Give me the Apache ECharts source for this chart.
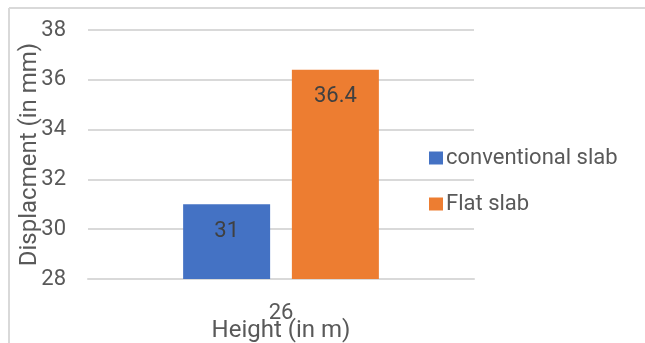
<!DOCTYPE html>
<html>
<head>
<meta charset="utf-8">
<script src="https://cdn.jsdelivr.net/npm/echarts@6/dist/echarts.min.js"></script>
<style>
  html, body { margin: 0; padding: 0; background: #fff; }
  #chart { width: 645px; height: 343px; }
</style>
</head>
<body>
<div id="chart"></div>
<script>
// Displacement of the two slab systems at a building height of 26 m
const categories = ['26'];
const conventionalSlab = [31];
const flatSlab = [36.4];
const yTicks = { min: 28, max: 38, interval: 2 };

const font = 'Roboto, "Open Sans", sans-serif';
const chart = echarts.init(document.getElementById('chart'));

chart.setOption({
  animation: false,
  backgroundColor: '#ffffff',
  textStyle: { fontFamily: font },
  graphic: [
    { type: 'line', shape: { x1: 9, y1: 8, x2: 645, y2: 8 }, style: { stroke: '#d9d9d9', lineWidth: 2 } },
    { type: 'line', shape: { x1: 9, y1: 8, x2: 9, y2: 343 }, style: { stroke: '#d9d9d9', lineWidth: 2 } }
  ],
  grid: { left: 88, right: 171, top: 30, bottom: 64, containLabel: false, outerBoundsMode: 'none' },
  legend: {
    orient: 'vertical',
    left: 424,
    top: 142,
    itemWidth: 14,
    itemHeight: 13,
    itemGap: 24,
    icon: 'rect',
    textStyle: { fontSize: 22, color: '#595959', fontFamily: font, padding: [0, 0, 0, -2] },
    data: ['conventional slab', 'Flat slab']
  },
  xAxis: {
    type: 'category',
    data: categories,
    name: 'Height (in m)',
    nameLocation: 'middle',
    nameGap: 40,
    nameMoveOverlap: false,
    nameTextStyle: { fontSize: 24, color: '#595959', fontFamily: font },
    axisLine: { show: true, lineStyle: { color: '#d9d9d9', width: 2 } },
    axisTick: { show: false },
    axisLabel: { fontSize: 22, color: '#595959', margin: 23, fontFamily: font }
  },
  yAxis: {
    type: 'value',
    min: yTicks.min,
    max: yTicks.max,
    interval: yTicks.interval,
    name: 'Displacment (in mm)',
    nameLocation: 'middle',
    nameGap: 46,
    nameMoveOverlap: false,
    nameTextStyle: { fontSize: 24, color: '#595959', fontFamily: font },
    axisLine: { show: false },
    axisTick: { show: false },
    axisLabel: { fontSize: 22, color: '#595959', margin: 22, fontFamily: font },
    splitLine: { lineStyle: { color: '#d9d9d9', width: 2 } }
  },
  series: [
    {
      name: 'conventional slab',
      type: 'bar',
      data: conventionalSlab,
      barWidth: 87,
      barGap: '25%',
      itemStyle: { color: '#4472c4' },
      label: { show: true, position: 'insideTop', distance: 16, fontSize: 22, color: '#404040', fontFamily: font }
    },
    {
      name: 'Flat slab',
      type: 'bar',
      data: flatSlab,
      barWidth: 87,
      barGap: '25%',
      itemStyle: { color: '#ed7d31' },
      label: { show: true, position: 'insideTop', distance: 16, fontSize: 22, color: '#404040', fontFamily: font }
    }
  ]
});
</script>
</body>
</html>
